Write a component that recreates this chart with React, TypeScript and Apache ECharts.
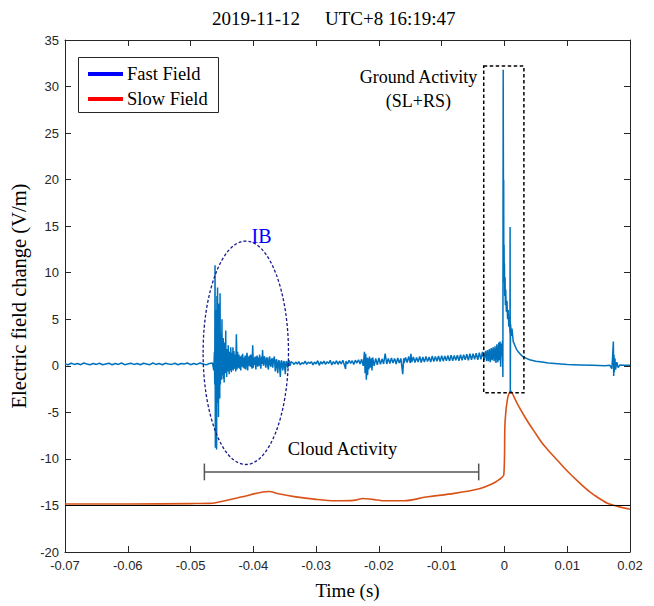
import React, { useEffect, useRef } from "react";
import * as echarts from "echarts";

// ---------- axes ----------
const X_MIN = -0.07;
const X_MAX = 0.02;
const X_STEP = 0.01;
const Y_MIN = -20;
const Y_MAX = 35;
const Y_STEP = 5;

const TITLE_DATE = "2019-11-12";
const TITLE_TIME = "UTC+8 16:19:47";
const X_NAME = "Time (s)";
const Y_NAME = "Electric field change (V/m)";
const LEGEND_NAMES = ["Fast Field", "Slow Field"];

// ---------- fast field (time s, V/m) ----------
const fastPre: [number, number][] = [
  [-0.07, 0.2], [-0.0695, 0.12], [-0.069, 0.28], [-0.0685, 0.15], [-0.068, 0.25], [-0.0675, 0.12],
  [-0.067, 0.3], [-0.0665, 0.2], [-0.066, 0.12], [-0.0655, 0.25], [-0.065, 0.15], [-0.0645, 0.28],
  [-0.064, 0.12], [-0.0635, 0.2], [-0.063, 0.28], [-0.0625, 0.12], [-0.062, 0.25], [-0.0615, 0.15],
  [-0.061, 0.3], [-0.0605, 0.12], [-0.06, 0.2], [-0.0595, 0.28], [-0.059, 0.15], [-0.0585, 0.25],
  [-0.058, 0.12], [-0.0575, 0.28], [-0.057, 0.2], [-0.0565, 0.12], [-0.056, 0.3], [-0.0555, 0.15],
  [-0.055, 0.25], [-0.0545, 0.12], [-0.054, 0.28], [-0.0535, 0.2], [-0.053, 0.15], [-0.0525, 0.28],
  [-0.052, 0.12], [-0.0515, 0.25], [-0.051, 0.2], [-0.0505, 0.3], [-0.05, 0.12], [-0.0495, 0.25],
  [-0.049, 0.15], [-0.0485, 0.3], [-0.048, 0.2], [-0.0475, 0.1], [-0.047, 0.25], [-0.0465, 0.3],
];

const fastIB: [number, number][] = [
  [-0.0463, -0.5], [-0.0462, 1.5], [-0.04615, -2.0], [-0.0461, 10.8], [-0.04605, -8.8],
  [-0.046, 6.0], [-0.04595, -6.5], [-0.0459, 4.0], [-0.04585, -9.0], [-0.0458, 7.5],
  [-0.04575, -4.0], [-0.0457, 8.4], [-0.04565, -3.0], [-0.0456, 5.0], [-0.04555, -5.5],
  [-0.0455, 6.7], [-0.04545, -2.5], [-0.0454, 4.5], [-0.04535, -3.5], [-0.0453, 7.8],
  [-0.04525, -2.0], [-0.0452, 3.5], [-0.04515, -1.2], [-0.0451, 2.8], [-0.04505, -1.5],
  [-0.045, 5.0], [-0.04495, -0.8], [-0.0449, 2.4], [-0.04485, -1.0], [-0.0448, 3.0],
  [-0.04475, -1.4], [-0.0447, 2.2], [-0.04465, -1.8], [-0.0446, 2.5], [-0.04455, -0.6],
  [-0.0445, 1.8], [-0.04445, -0.8], [-0.0444, 3.8], [-0.04435, -0.5], [-0.0443, 1.6],
  [-0.04425, -1.2], [-0.0442, 1.8], [-0.04415, -0.4], [-0.0441, 1.5], [-0.04405, -0.6],
  [-0.044, 2.2], [-0.04395, -0.3], [-0.0439, 1.4], [-0.04385, -0.9], [-0.0438, 1.5],
  [-0.0437, -0.5], [-0.0436, 2.0], [-0.0435, -0.7], [-0.0434, 1.4], [-0.0433, -0.4],
  [-0.04325, 2.0], [-0.0432, -0.5], [-0.0431, 1.6], [-0.043, -0.3], [-0.0429, 1.2],
  [-0.0428, -0.6], [-0.0427, 3.4], [-0.0426, -0.4], [-0.0425, 1.5], [-0.0424, -0.2],
  [-0.0423, 1.2], [-0.0422, -0.3], [-0.0421, 1.0], [-0.042, -0.5], [-0.0419, 1.1],
  [-0.0418, -0.1], [-0.0417, 1.3], [-0.0416, -0.2], [-0.0415, 0.9], [-0.0414, -0.3],
  [-0.0413, 1.1], [-0.0412, -0.4], [-0.0411, 0.9], [-0.041, 1.4], [-0.0409, -0.5],
  [-0.0408, 1.0], [-0.0407, 0.0], [-0.0406, 1.1], [-0.0405, -0.1], [-0.0404, 1.2],
  [-0.0403, 0.1], [-0.0402, -0.3], [-0.0401, 2.2], [-0.04, -0.2], [-0.0399, 0.9],
  [-0.0398, 0.1], [-0.0397, 1.0], [-0.0396, -0.4], [-0.0395, 0.8], [-0.0394, 1.1],
  [-0.0393, -0.1], [-0.0392, 0.9], [-0.0391, 0.0], [-0.039, 1.2], [-0.0389, 0.1],
  [-0.0388, -0.3], [-0.0387, 1.0], [-0.0386, 0.2], [-0.03853, 1.7], [-0.0384, 0.0],
  [-0.0383, 0.9], [-0.0382, 1.0], [-0.0381, 0.1], [-0.038, -0.2], [-0.0379, 0.8],
  [-0.0378, 0.9], [-0.0377, 0.0], [-0.0376, -0.4], [-0.0375, 0.8], [-0.0374, 1.0],
  [-0.0373, 0.1], [-0.0372, -0.1], [-0.0371, 0.7], [-0.037, 0.8], [-0.0369, -0.2],
  [-0.0368, 0.6], [-0.03665, 1.0], [-0.0365, -0.6], [-0.0364, 0.5], [-0.0363, 0.7],
  [-0.0362, -0.3], [-0.0361, -0.8], [-0.036, 0.5], [-0.0359, 0.6], [-0.0358, -0.2],
  [-0.0357, -1.2], [-0.0356, 0.4], [-0.0355, 0.6], [-0.0354, -0.1], [-0.0353, -0.5],
  [-0.0352, 0.4], [-0.0351, 0.5], [-0.035, -0.2], [-0.0349, -0.9], [-0.0348, 0.4],
  [-0.0347, 0.5], [-0.0346, 0.0], [-0.0345, -0.2], [-0.0344, 0.5], [-0.0343, 0.6],
  [-0.0342, 0.0], [-0.0341, 0.1], [-0.034, 0.45], [-0.0339, 0.4],
];

const fastCloud: [number, number][] = [
  [-0.03375, 0.35], [-0.0335, 0.15], [-0.03325, 0.4], [-0.033, 0.2], [-0.03275, 0.45], [-0.0325, 0.1],
  [-0.03225, 0.35], [-0.032, 0.2], [-0.03175, 0.5], [-0.0315, 0.15], [-0.03125, 0.4], [-0.031, 0.25],
  [-0.03075, 0.45], [-0.0305, 0.1], [-0.03025, 0.4], [-0.03, 0.2], [-0.02975, 0.55], [-0.0295, 0.05],
  [-0.02925, 0.45], [-0.029, 0.2], [-0.02875, 0.5], [-0.0285, 0.15], [-0.02825, 0.45], [-0.028, 0.25],
  [-0.02775, 0.6], [-0.0275, 0.1], [-0.02725, 0.45], [-0.027, 0.2], [-0.02675, 0.55], [-0.0265, 0.15],
  [-0.02625, 0.5], [-0.026, 0.2], [-0.02575, 0.6], [-0.0255, 0.1], [-0.0253, -0.35], [-0.02525, 0.5],
  [-0.025, 0.2], [-0.02475, 0.6], [-0.0245, 0.25], [-0.02425, 0.55], [-0.024, 0.15], [-0.02375, 0.6],
  [-0.0235, 0.3], [-0.02325, 0.65], [-0.023, 0.2], [-0.02275, 0.7], [-0.0225, 0.0], [-0.0223, 1.5],
  [-0.0222, -0.8], [-0.0221, 1.3], [-0.022, -1.5], [-0.0219, 0.9], [-0.0218, -1.0], [-0.0217, 0.8],
  [-0.0216, -0.4], [-0.0215, 1.0], [-0.0214, -0.2], [-0.0212, 0.8], [-0.0211, -0.5], [-0.021, 0.9],
  [-0.02075, 0.0], [-0.0205, 0.8], [-0.02025, 0.1], [-0.02, 0.85], [-0.01975, 0.15], [-0.0195, 0.75],
  [-0.01925, 0.2], [-0.019, 1.3], [-0.01875, 0.2], [-0.0185, 0.8], [-0.01825, 0.25], [-0.018, 0.85],
  [-0.01775, 0.3], [-0.0175, 0.8], [-0.01725, 0.2], [-0.017, 0.85], [-0.01675, 0.3], [-0.0165, 0.8],
  [-0.0162, -0.9], [-0.01605, 0.8], [-0.016, 0.3], [-0.01575, 0.9], [-0.0155, 0.35], [-0.01525, 1.0],
  [-0.015, 0.3], [-0.0149, 1.3], [-0.01475, 0.4], [-0.0145, 0.95], [-0.01425, 0.35], [-0.014, 0.9],
  [-0.01375, 0.4], [-0.0135, 1.0], [-0.01325, 0.35], [-0.013, 0.95], [-0.01275, 0.4], [-0.0125, 1.0],
  [-0.01225, 0.45], [-0.012, 0.95], [-0.01175, 0.4], [-0.0115, 1.05], [-0.01125, 0.45], [-0.011, 1.0],
  [-0.01075, 0.5], [-0.0105, 1.05], [-0.01025, 0.45], [-0.01, 1.1], [-0.00975, 0.5], [-0.0095, 1.05],
  [-0.00925, 0.55], [-0.009, 1.1], [-0.00875, 0.5], [-0.0085, 1.15], [-0.00825, 0.55], [-0.008, 1.1],
  [-0.00775, 0.6], [-0.0075, 1.15], [-0.00725, 0.55], [-0.007, 1.2], [-0.00675, 0.6], [-0.0065, 1.2],
  [-0.00625, 0.65], [-0.006, 1.25], [-0.00575, 0.6], [-0.0055, 1.3], [-0.00525, 0.65], [-0.005, 1.3],
  [-0.00475, 0.7], [-0.0045, 1.35], [-0.00425, 0.65], [-0.004, 1.4], [-0.00375, 0.7], [-0.0035, 1.5],
  [-0.00325, 0.6], [-0.003, 1.6], [-0.00285, 0.5], [-0.0027, 1.7], [-0.00255, 0.5], [-0.0024, 1.8],
  [-0.00225, 0.4], [-0.0021, 1.9], [-0.00195, 0.6], [-0.0018, 2.0], [-0.00165, 0.5], [-0.0015, 2.1],
  [-0.00135, 0.3], [-0.0012, 2.3], [-0.00105, 0.4], [-0.0009, 2.5], [-0.0008, 0.6], [-0.0007, 2.6],
  [-0.0006, -0.1], [-0.0005, 2.4], [-0.0004, 1.0], [-0.0003, 2.7],
];

const fastGround: [number, number][] = [
  [-0.00025, -1.2], [-0.0002, 31.8], [-0.00018, 25.3], [-0.00015, 15.5], [-0.00012, 20.0],
  [-0.0001, 11.5], [-0.00006, 13.0], [-0.00003, 9.0], [0.0, 11.0], [0.00004, 7.5], [0.0001, 9.5],
  [0.00015, 6.5], [0.0002, 8.2], [0.0003, 5.8], [0.0004, 7.0], [0.0005, 5.0], [0.0006, 6.0],
  [0.0007, 4.2], [0.0008, 5.2], [0.00088, 3.5], [0.0009, 14.9], [0.00093, -2.9], [0.00097, 4.5],
  [0.0011, 3.2], [0.0012, 4.0], [0.0014, 2.6], [0.0016, 2.3], [0.0019, 1.8], [0.0022, 1.5],
  [0.0026, 1.2], [0.003, 0.95], [0.0035, 0.8], [0.004, 0.65], [0.005, 0.5], [0.006, 0.4],
  [0.007, 0.3], [0.008, 0.25], [0.009, 0.2], [0.01, 0.15], [0.012, 0.1], [0.014, 0.05],
  [0.016, 0.0], [0.0168, 0.05], [0.0171, -0.3], [0.0172, 0.6], [0.01735, 2.6], [0.0174, -1.1],
  [0.01745, 1.2], [0.0175, -0.7], [0.0176, 0.8], [0.0177, -0.4], [0.0179, 0.4], [0.0181, -0.2],
  [0.0184, 0.1], [0.019, 0.05], [0.02, 0.05],
];

// ---------- slow field (time s, V/m) ----------
const slowField: [number, number][] = [
  [-0.07, -14.85], [-0.06, -14.85], [-0.05, -14.8], [-0.047, -14.78], [-0.046, -14.7],
  [-0.042, -14.1], [-0.0385, -13.55], [-0.0375, -13.5], [-0.036, -13.75], [-0.0335, -14.05],
  [-0.03, -14.35], [-0.027, -14.5], [-0.024, -14.45], [-0.0225, -14.25], [-0.021, -14.35],
  [-0.019, -14.5], [-0.016, -14.5], [-0.0125, -14.1], [-0.008, -13.7], [-0.004, -13.2],
  [-0.002, -12.7], [-0.0008, -12.2], [-0.0001, -11.7], [0.0001, -6.0], [0.0005, -3.5],
  [0.001, -2.7], [0.0015, -3.3], [0.002, -4.0], [0.003, -5.2], [0.004, -6.3], [0.005, -7.3],
  [0.006, -8.3], [0.007, -9.1], [0.0085, -10.2], [0.01, -11.3], [0.012, -12.6], [0.0137, -13.6],
  [0.015, -14.2], [0.0165, -14.8], [0.018, -15.1], [0.02, -15.4],
];

const REFERENCE_LEVEL = -15;

// ---------- annotations (data coordinates) ----------
const groundBox = { t0: -0.0033, t1: 0.0031, v0: -2.9, v1: 32.2 };
const ibEllipse = { t: -0.0412, v: 1.4, dt: 0.0068, dv: 12.0 };
const cloudBracket = { t0: -0.0478, t1: -0.0041, v: -11.4, cap: 0.9 };
const labelGround = { text: "Ground Activity", t: -0.0137, v: 31.0 };
const labelGround2 = { text: "(SL+RS)", t: -0.0137, v: 28.4 };
const labelCloud = { text: "Cloud Activity", t: -0.0258, v: -8.9 };
const labelIB = { text: "IB", t: -0.0387, v: 13.9 };

const SERIF = "'Liberation Serif', 'Times New Roman', serif";
const SANS = "'Liberation Sans', Arial, sans-serif";
const AXIS_COLOR = "#262626";

export default function App() {
  const ref = useRef<HTMLDivElement>(null);

  useEffect(() => {
    if (!ref.current) return;
    const chart = echarts.init(ref.current, undefined, { renderer: "svg" });

    const axisCommon = {
      axisLine: { show: true, onZero: false, lineStyle: { color: AXIS_COLOR, width: 1 } },
      axisTick: { show: true, inside: true, length: 6, lineStyle: { color: AXIS_COLOR } },
      splitLine: { show: false },
    };

    const fastData = [...fastPre, ...fastIB, ...fastCloud, ...fastGround];

    chart.setOption({
      animation: false,
      backgroundColor: "#ffffff",
      grid: { left: 58, right: 24, top: 40, bottom: 54, containLabel: false },
      xAxis: [
        {
          type: "value",
          min: X_MIN,
          max: X_MAX,
          interval: X_STEP,
          name: X_NAME,
          nameLocation: "middle",
          nameGap: 29,
          nameTextStyle: { fontFamily: SERIF, fontSize: 19, color: "#000" },
          ...axisCommon,
          axisLabel: {
            fontFamily: SANS,
            fontSize: 13,
            color: AXIS_COLOR,
            margin: 7,
            formatter: (v: number) => String(Number(v.toFixed(2))),
          },
        },
        {
          type: "value",
          position: "top",
          min: X_MIN,
          max: X_MAX,
          interval: X_STEP,
          ...axisCommon,
          axisLabel: { show: false },
        },
      ],
      yAxis: [
        {
          type: "value",
          min: Y_MIN,
          max: Y_MAX,
          interval: Y_STEP,
          name: Y_NAME,
          nameLocation: "middle",
          nameGap: 36,
          nameRotate: 90,
          nameTextStyle: { fontFamily: SERIF, fontSize: 20.5, color: "#000" },
          ...axisCommon,
          axisLabel: { fontFamily: SANS, fontSize: 13, color: AXIS_COLOR, margin: 6 },
        },
        {
          type: "value",
          position: "right",
          min: Y_MIN,
          max: Y_MAX,
          interval: Y_STEP,
          ...axisCommon,
          axisLabel: { show: false },
        },
      ],
      series: [
        {
          name: LEGEND_NAMES[1],
          type: "line",
          data: slowField,
          showSymbol: false,
          smooth: 0.3,
          lineStyle: { color: "#D95319", width: 1.6 },
          z: 3,
          markLine: {
            silent: true,
            symbol: ["none", "none"],
            label: { show: false },
            lineStyle: { color: "#000", width: 1, type: "solid" },
            data: [{ yAxis: REFERENCE_LEVEL }],
          },
        },
        {
          name: LEGEND_NAMES[0],
          type: "line",
          data: fastData,
          showSymbol: false,
          lineStyle: { color: "#0072BD", width: 1.5 },
          z: 4,
        },
      ],
    });

    const px = (t: number, v: number) => chart.convertToPixel({ gridIndex: 0 }, [t, v]) as number[];

    const b0 = px(groundBox.t0, groundBox.v1);
    const b1 = px(groundBox.t1, groundBox.v0);
    const ec = px(ibEllipse.t, ibEllipse.v);
    const er = px(ibEllipse.t + ibEllipse.dt, ibEllipse.v + ibEllipse.dv);
    const c0 = px(cloudBracket.t0, cloudBracket.v);
    const c1 = px(cloudBracket.t1, cloudBracket.v);
    const capTop = px(cloudBracket.t0, cloudBracket.v + cloudBracket.cap)[1];
    const capBot = px(cloudBracket.t0, cloudBracket.v - cloudBracket.cap)[1];
    const lg = px(labelGround.t, labelGround.v);
    const lg2 = px(labelGround2.t, labelGround2.v);
    const lc = px(labelCloud.t, labelCloud.v);
    const li = px(labelIB.t, labelIB.v);

    const textStyle = (text: string, color = "#000", size = 18) => ({
      text,
      fill: color,
      font: `${size}px ${SERIF}`,
      align: "center",
      verticalAlign: "middle",
    });

    chart.setOption({
      graphic: [
        // title
        {
          type: "text",
          x: 300,
          y: 18,
          style: { text: TITLE_DATE, fill: "#000", font: `19px ${SERIF}`, align: "right", verticalAlign: "middle" },
        },
        {
          type: "text",
          x: 325,
          y: 18,
          style: { text: TITLE_TIME, fill: "#000", font: `19px ${SERIF}`, align: "left", verticalAlign: "middle" },
        },
        // legend
        {
          type: "rect",
          shape: { x: 78.5, y: 57.5, width: 140, height: 55 },
          style: { fill: "#fff", stroke: AXIS_COLOR, lineWidth: 1 },
          z: 100,
        },
        {
          type: "line",
          shape: { x1: 88, y1: 74, x2: 123, y2: 74 },
          style: { stroke: "#0000ff", lineWidth: 4 },
          z: 101,
        },
        {
          type: "text",
          x: 127,
          y: 74,
          style: { text: LEGEND_NAMES[0], fill: "#000", font: `18.5px ${SERIF}`, align: "left", verticalAlign: "middle" },
          z: 101,
        },
        {
          type: "line",
          shape: { x1: 88, y1: 99, x2: 123, y2: 99 },
          style: { stroke: "#ff0000", lineWidth: 4 },
          z: 101,
        },
        {
          type: "text",
          x: 127,
          y: 99,
          style: { text: LEGEND_NAMES[1], fill: "#000", font: `18.5px ${SERIF}`, align: "left", verticalAlign: "middle" },
          z: 101,
        },
        // ground activity box
        {
          type: "rect",
          shape: { x: b0[0], y: b0[1], width: b1[0] - b0[0], height: b1[1] - b0[1] },
          style: { fill: "none", stroke: "#000", lineWidth: 1.5, lineDash: [3.5, 2.5] },
          z: 50,
        },
        { type: "text", x: lg[0], y: lg[1], style: textStyle(labelGround.text), z: 50 },
        { type: "text", x: lg2[0], y: lg2[1], style: textStyle(labelGround2.text), z: 50 },
        // IB ellipse
        {
          type: "ellipse",
          shape: { cx: ec[0], cy: ec[1], rx: er[0] - ec[0], ry: ec[1] - er[1] },
          style: { fill: "none", stroke: "#1a1a8c", lineWidth: 1.3, lineDash: [3, 2] },
          z: 50,
        },
        { type: "text", x: li[0], y: li[1], style: textStyle(labelIB.text, "#0000ff", 20), z: 50 },
        // cloud bracket
        {
          type: "line",
          shape: { x1: c0[0], y1: c0[1], x2: c1[0], y2: c1[1] },
          style: { stroke: "#555", lineWidth: 1.5 },
          z: 50,
        },
        {
          type: "line",
          shape: { x1: c0[0], y1: capTop, x2: c0[0], y2: capBot },
          style: { stroke: "#555", lineWidth: 1.5 },
          z: 50,
        },
        {
          type: "line",
          shape: { x1: c1[0], y1: capTop, x2: c1[0], y2: capBot },
          style: { stroke: "#555", lineWidth: 1.5 },
          z: 50,
        },
        { type: "text", x: lc[0], y: lc[1], style: textStyle(labelCloud.text, "#000", 18.5), z: 50 },
      ],
    });

    return () => chart.dispose();
  }, []);

  return <div ref={ref} style={{ width: 654, height: 606, position: "absolute", left: 0, top: 0 }} />;
}
